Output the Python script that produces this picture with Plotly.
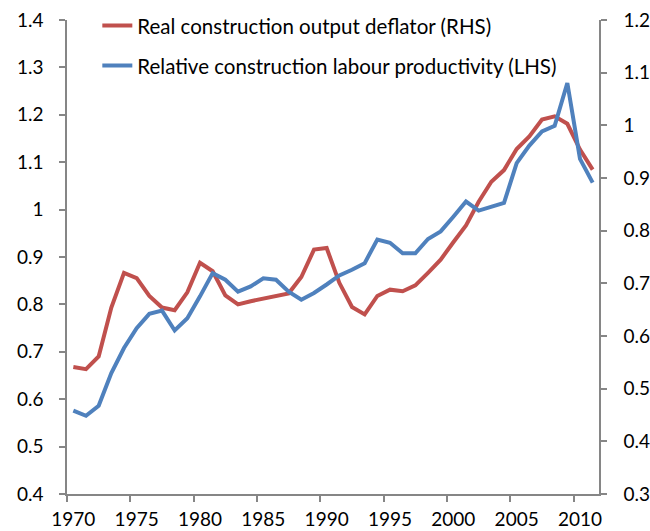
import plotly.graph_objects as go

years = list(range(1970, 2012))

deflator_rhs = [0.541, 0.537, 0.561, 0.654, 0.720, 0.710, 0.676, 0.654, 0.649, 0.683,
                0.739, 0.723, 0.677, 0.660, 0.666, 0.671, 0.676, 0.681, 0.712, 0.764,
                0.767, 0.701, 0.655, 0.641, 0.676, 0.688, 0.685, 0.696, 0.720, 0.745,
                0.778, 0.810, 0.855, 0.893, 0.915, 0.955, 0.979, 1.011, 1.017, 1.003,
                0.954, 0.916]

productivity_lhs = [0.576, 0.565, 0.586, 0.655, 0.708, 0.750, 0.780, 0.787, 0.745, 0.771,
                    0.817, 0.866, 0.852, 0.827, 0.838, 0.855, 0.852, 0.827, 0.810, 0.824,
                    0.842, 0.861, 0.873, 0.887, 0.937, 0.930, 0.908, 0.908, 0.938, 0.954,
                    0.985, 1.017, 0.998, 1.006, 1.014, 1.098, 1.135, 1.165, 1.177, 1.267,
                    1.107, 1.057]

x_label_years = [1970, 1975, 1980, 1985, 1990, 1995, 2000, 2005, 2010]
x_tick_marks = [1969.5, 1974.5, 1979.5, 1984.5, 1989.5, 1994.5, 1999.5, 2004.5, 2009.5]
left_ticks = [0.4, 0.5, 0.6, 0.7, 0.8, 0.9, 1.0, 1.1, 1.2, 1.3, 1.4]
left_labels = ["0.4", "0.5", "0.6", "0.7", "0.8", "0.9", "1", "1.1", "1.2", "1.3", "1.4"]
right_ticks = [0.3, 0.4, 0.5, 0.6, 0.7, 0.8, 0.9, 1.0, 1.1, 1.2]
right_labels = ["0.3", "0.4", "0.5", "0.6", "0.7", "0.8", "0.9", "1", "1.1", "1.2"]

RED = "#C0504D"
BLUE = "#4F81BD"
GREY = "#868686"
TICKFONT = dict(family="Lato, Calibri, sans-serif", size=19, color="#000000")
LEGFONT = dict(family="Lato, Calibri, sans-serif", size=20.5, color="#000000")

fig = go.Figure()
fig.add_trace(go.Scatter(
    x=years, y=deflator_rhs, mode="lines", name="Real construction output deflator (RHS)",
    line=dict(color=RED, width=4), yaxis="y", legend="legend", showlegend=True))
fig.add_trace(go.Scatter(
    x=years, y=productivity_lhs, mode="lines", name="Relative construction labour productivity (LHS)",
    line=dict(color=BLUE, width=4), yaxis="y2", legend="legend2", showlegend=True))

axis_common = dict(showgrid=False, zeroline=False, showline=True, linecolor=GREY, linewidth=1.5,
                   ticks="outside", ticklen=6, tickcolor=GREY, tickwidth=1.5, tickfont=TICKFONT,
                   automargin=False, ticklabeloverflow="allow")

fig.update_layout(
    width=650, height=531,
    margin=dict(l=67, r=51, t=20, b=37, autoexpand=False),
    paper_bgcolor="white", plot_bgcolor="white",
    font=TICKFONT,
    showlegend=True,
    xaxis=dict(range=[1969.5, 2011.5], tickmode="array", tickvals=x_label_years,
               ticktext=[str(v) for v in x_label_years], automargin=False,
               ticklabeloverflow="allow",
               showgrid=False, zeroline=False, showline=True, linecolor=GREY, linewidth=1.5,
               ticks="", ticklen=6, tickfont=TICKFONT, ticklabelstandoff=7,
               minor=dict(tickmode="array", tickvals=x_tick_marks, ticks="outside", ticklen=6,
                          tickcolor=GREY, tickwidth=1.5, showgrid=False)),
    yaxis=dict(range=[0.3, 1.2], side="right", tickmode="array", tickvals=right_ticks,
               ticktext=right_labels, ticklabelstandoff=13, **axis_common),
    yaxis2=dict(range=[0.4, 1.4], side="left", overlaying="y", tickmode="array",
                tickvals=left_ticks, ticktext=left_labels, ticklabelstandoff=12, **axis_common),
    legend=dict(x=0.057, y=0.988, xanchor="left", yanchor="middle", bgcolor="rgba(0,0,0,0)",
                font=LEGFONT, borderwidth=0, visible=True),
    legend2=dict(x=0.057, y=0.9036, xanchor="left", yanchor="middle", bgcolor="rgba(0,0,0,0)",
                 font=LEGFONT, borderwidth=0, visible=True),
)

# remove the browser's default 8px body margin so the 650x531 figure fills the window
fig.write_html("out.html",
               config={"displayModeBar": False},
               post_script="document.body.style.margin='0';document.body.style.overflow='hidden';")
